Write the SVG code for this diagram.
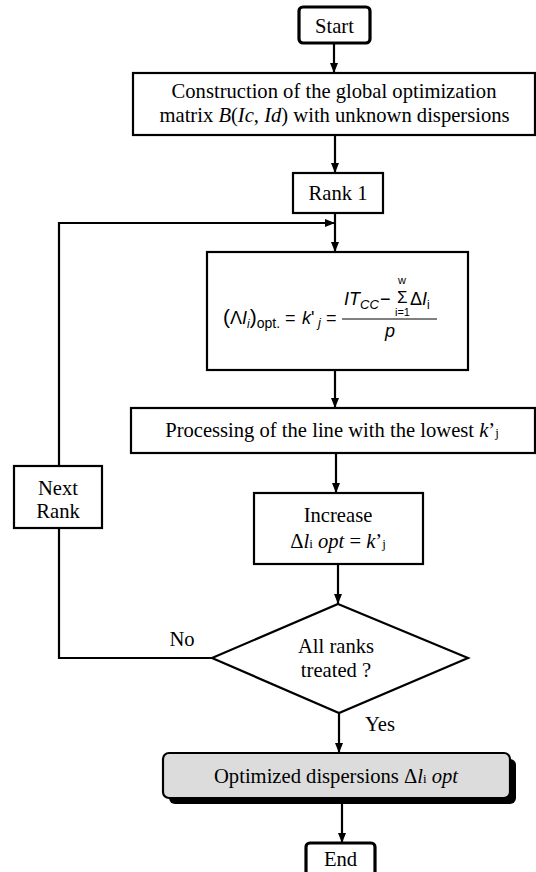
<svg xmlns="http://www.w3.org/2000/svg" width="536" height="872" viewBox="0 0 536 872">
<defs>
<marker id="arr" markerUnits="userSpaceOnUse" markerWidth="10" markerHeight="10" viewBox="0 0 10 10" refX="10" refY="5" orient="auto">
<path d="M0,1 L10,5 L0,9 Z" fill="#000"/>
</marker>
</defs>
<style>
.box{fill:#fff;stroke:#000;stroke-width:2.2}
.term{fill:#fff;stroke:#000;stroke-width:3.2}
.t{font-family:'Liberation Serif','Times New Roman','DejaVu Serif',serif;font-size:20.6px;fill:#000;text-anchor:middle}
.f{font-family:'Liberation Sans',Arial,sans-serif;font-size:18px;fill:#000}
.i{font-style:italic}
.c{fill:none;stroke:#000;stroke-width:2.2}
.ca{fill:none;stroke:#000;stroke-width:2.2;marker-end:url(#arr)}
</style>
<rect width="536" height="872" fill="#fff"/>

<g id="connectors">
<line class="ca" x1="334" y1="43" x2="334" y2="73"/>
<line class="ca" x1="335" y1="135" x2="335" y2="173"/>
<line class="ca" x1="335" y1="213" x2="335" y2="252"/>
<polyline class="c" points="212,658 59,658 59,528"/>
<polyline class="ca" points="59,466 59,223 335,223"/>
<line class="ca" x1="335" y1="370" x2="335" y2="408"/>
<line class="ca" x1="336" y1="453" x2="336" y2="493"/>
<line class="ca" x1="338" y1="564" x2="338" y2="604"/>
<line class="ca" x1="339" y1="713" x2="339" y2="753"/>
<line class="ca" x1="342" y1="803" x2="342" y2="843"/>
<text class="t" x="182" y="646">No</text>
<text class="t" x="380" y="731">Yes</text>
</g>

<g id="start">
<rect class="term" x="299" y="7" width="71" height="36" rx="4"/>
<text class="t" x="334.500" y="33">Start</text>
</g>

<g id="construction">
<rect class="box" x="133" y="73" width="402" height="62"/>
<text class="t" x="334" y="98">Construction of the global optimization</text>
<text class="t" x="334.500" y="122">matrix <tspan class="i">B</tspan>(<tspan class="i">Ic</tspan>, <tspan class="i">Id</tspan>) with unknown dispersions</text>
</g>

<g id="rank1">
<rect class="box" x="293" y="173" width="90" height="40"/>
<text class="t" x="338" y="200">Rank 1</text>
</g>

<g id="formula">
<rect class="box" x="207" y="252" width="261" height="118"/>
<text class="f" y="324"><tspan x="223" font-size="21">(</tspan><tspan>Λ</tspan><tspan class="i">I</tspan><tspan class="i" font-size="12" dy="4">i</tspan><tspan font-size="21" dy="-4">)</tspan><tspan font-size="14" dy="4">opt.</tspan><tspan x="285" dy="-4">=</tspan><tspan x="302" class="i">k</tspan><tspan>'</tspan><tspan x="318" class="i" font-size="13" dy="3">j</tspan><tspan x="326" dy="-3">=</tspan></text>
<text class="f"><tspan class="i" x="344" y="305">IT</tspan><tspan class="i" font-size="13" y="309">CC</tspan><tspan x="380" y="305">−</tspan><tspan x="397" y="302.500" font-size="17">Σ</tspan><tspan x="398" y="284" font-size="11">w</tspan><tspan x="395" y="316" font-size="11">i=1</tspan><tspan x="410" y="305">Δ</tspan><tspan class="i">I</tspan><tspan font-size="12" y="309">i</tspan></text>
<line x1="342" y1="319" x2="437" y2="319" stroke="#000" stroke-width="1"/>
<text class="f i" x="385" y="337">p</text>
</g>

<g id="processing">
<rect class="box" x="131" y="408" width="404" height="45"/>
<text class="t" x="332" y="437">Processing of the line with the lowest <tspan class="i">k</tspan>’<tspan font-size="13">j</tspan></text>
</g>

<g id="increase">
<rect class="box" x="254" y="493" width="169" height="71"/>
<text class="t" x="338" y="522">Increase</text>
<text class="t" x="338" y="548">Δ<tspan class="i">l</tspan><tspan font-size="13">i</tspan> <tspan class="i">opt</tspan> = <tspan class="i">k</tspan>’<tspan font-size="13">j</tspan></text>
</g>

<g id="next-rank">
<rect class="box" x="14" y="466" width="88" height="62"/>
<text class="t" x="58" y="495">Next</text>
<text class="t" x="58" y="518">Rank</text>
</g>

<g id="decision">
<polygon class="box" points="338,604 468,658 339,713 212,658"/>
<text class="t" x="336" y="653">All ranks</text>
<text class="t" x="336" y="677">treated ?</text>
</g>

<g id="optimized">
<rect x="169" y="759" width="347" height="45" rx="6" fill="#000"/>
<rect x="163" y="753" width="347" height="45" rx="6" fill="#dcdcdc" stroke="#000" stroke-width="2.2"/>
<text class="t" x="336" y="783">Optimized dispersions Δ<tspan class="i">l</tspan><tspan font-size="13">i</tspan> <tspan class="i">opt</tspan></text>
</g>

<g id="end">
<rect class="term" x="306" y="843" width="69" height="40" rx="4"/>
<text class="t" x="340.500" y="866">End</text>
</g>
</svg>
